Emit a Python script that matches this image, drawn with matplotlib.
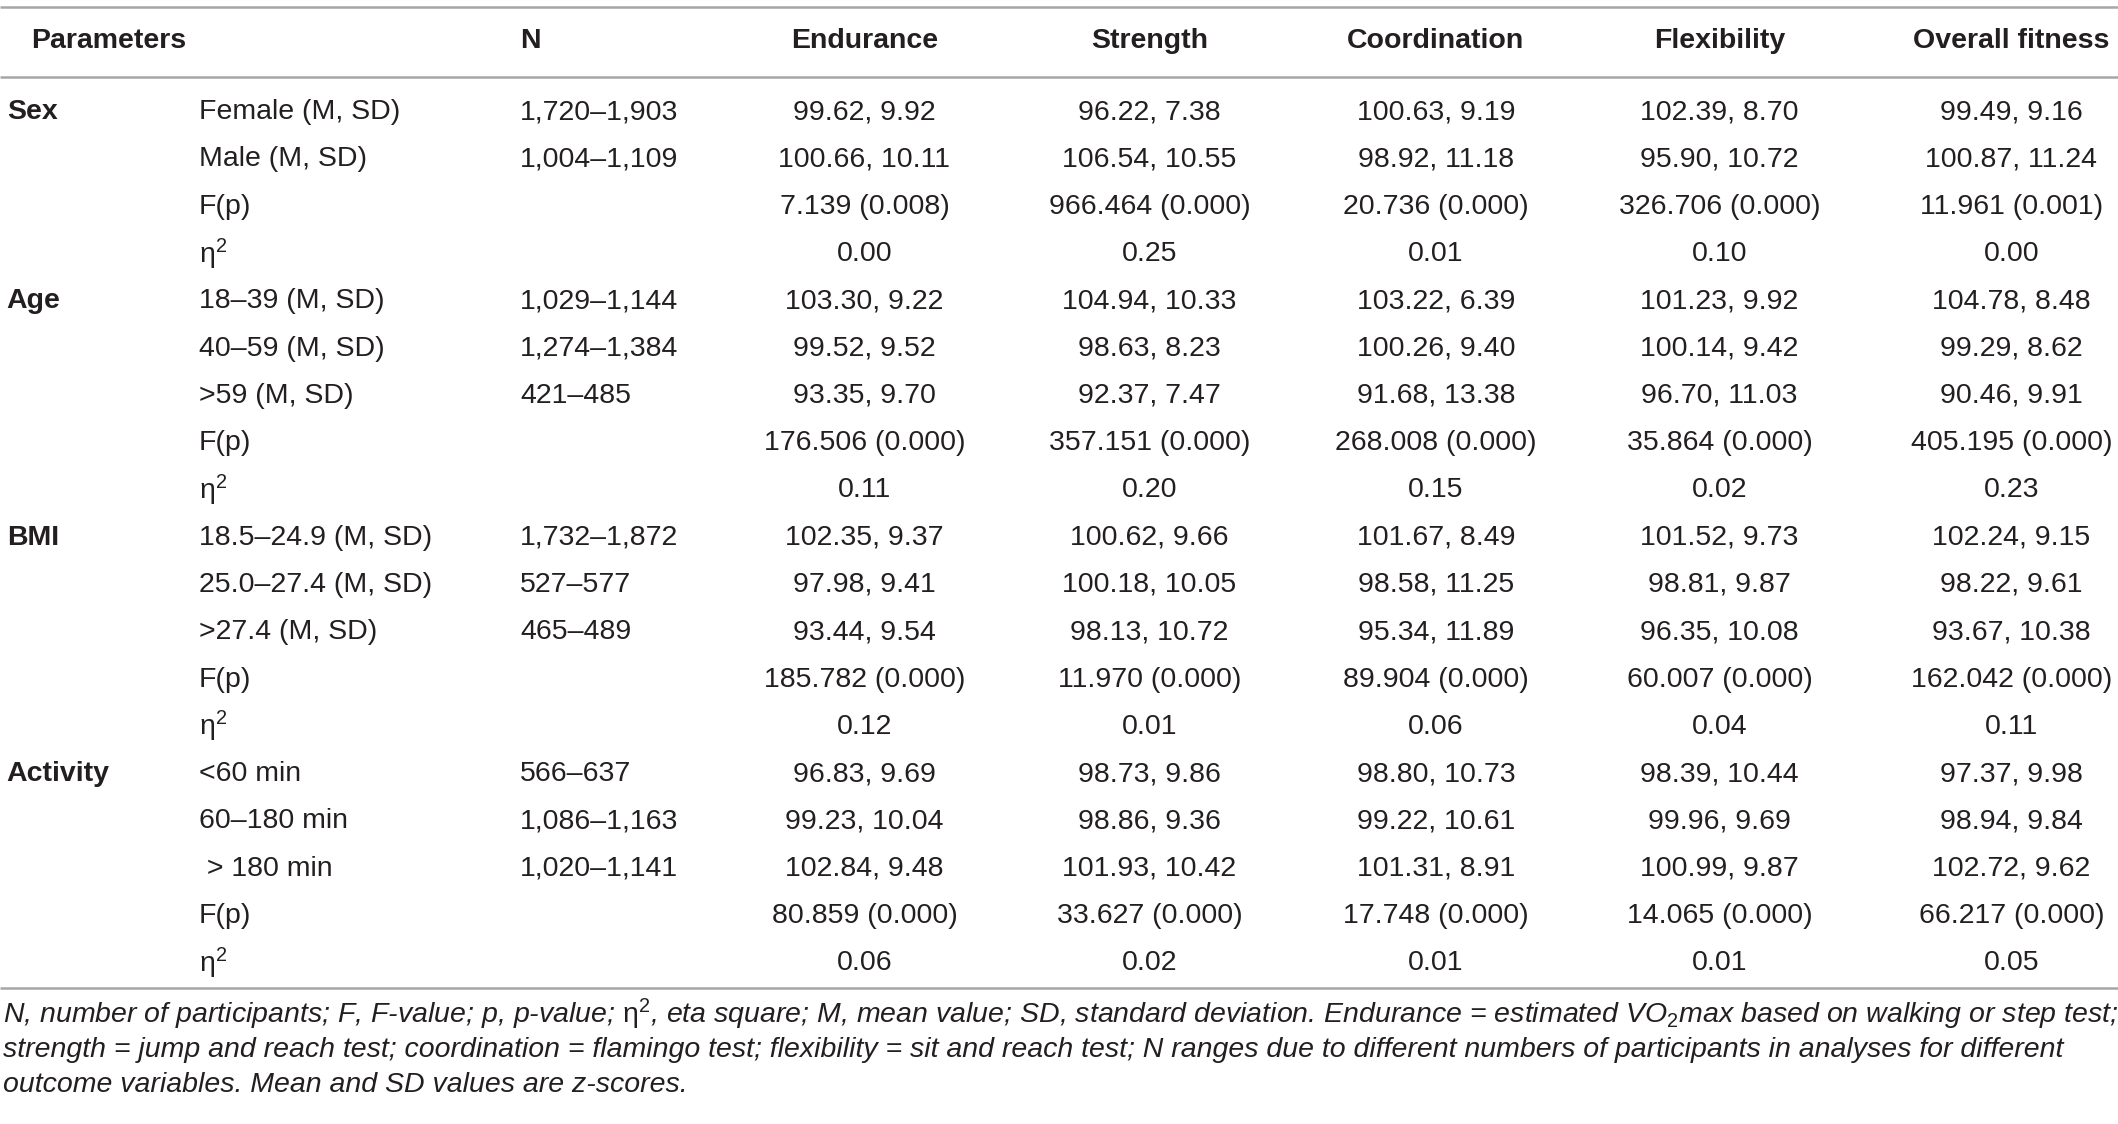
import matplotlib
matplotlib.use("Agg")
import matplotlib.pyplot as plt

plt.rcParams['font.family'] = ['Liberation Sans', 'DejaVu Sans']
plt.rcParams['mathtext.fontset'] = 'custom'
plt.rcParams['mathtext.rm'] = 'Liberation Sans'
plt.rcParams['mathtext.it'] = 'Liberation Sans:italic'

# 表头
columns = ["Endurance", "Strength", "Coordination", "Flexibility", "Overall fitness"]
groups = ["Sex", "Age", "BMI", "Activity"]
group_sizes = [4, 5, 5, 5]

row_labels = [
    "Female (M, SD)", "Male (M, SD)", "F(p)", "η$^{2}$",
    "18–39 (M, SD)", "40–59 (M, SD)", ">59 (M, SD)", "F(p)", "η$^{2}$",
    "18.5–24.9 (M, SD)", "25.0–27.4 (M, SD)", ">27.4 (M, SD)", "F(p)", "η$^{2}$",
    "<60 min", "60–180 min", " > 180 min", "F(p)", "η$^{2}$",
]
n_values = [
    "1,720–1,903", "1,004–1,109", "", "",
    "1,029–1,144", "1,274–1,384", "421–485", "", "",
    "1,732–1,872", "527–577", "465–489", "", "",
    "566–637", "1,086–1,163", "1,020–1,141", "", "",
]
endurance = [
    "99.62, 9.92", "100.66, 10.11", "7.139 (0.008)", "0.00",
    "103.30, 9.22", "99.52, 9.52", "93.35, 9.70", "176.506 (0.000)", "0.11",
    "102.35, 9.37", "97.98, 9.41", "93.44, 9.54", "185.782 (0.000)", "0.12",
    "96.83, 9.69", "99.23, 10.04", "102.84, 9.48", "80.859 (0.000)", "0.06",
]
strength = [
    "96.22, 7.38", "106.54, 10.55", "966.464 (0.000)", "0.25",
    "104.94, 10.33", "98.63, 8.23", "92.37, 7.47", "357.151 (0.000)", "0.20",
    "100.62, 9.66", "100.18, 10.05", "98.13, 10.72", "11.970 (0.000)", "0.01",
    "98.73, 9.86", "98.86, 9.36", "101.93, 10.42", "33.627 (0.000)", "0.02",
]
coordination = [
    "100.63, 9.19", "98.92, 11.18", "20.736 (0.000)", "0.01",
    "103.22, 6.39", "100.26, 9.40", "91.68, 13.38", "268.008 (0.000)", "0.15",
    "101.67, 8.49", "98.58, 11.25", "95.34, 11.89", "89.904 (0.000)", "0.06",
    "98.80, 10.73", "99.22, 10.61", "101.31, 8.91", "17.748 (0.000)", "0.01",
]
flexibility = [
    "102.39, 8.70", "95.90, 10.72", "326.706 (0.000)", "0.10",
    "101.23, 9.92", "100.14, 9.42", "96.70, 11.03", "35.864 (0.000)", "0.02",
    "101.52, 9.73", "98.81, 9.87", "96.35, 10.08", "60.007 (0.000)", "0.04",
    "98.39, 10.44", "99.96, 9.69", "100.99, 9.87", "14.065 (0.000)", "0.01",
]
overall = [
    "99.49, 9.16", "100.87, 11.24", "11.961 (0.001)", "0.00",
    "104.78, 8.48", "99.29, 8.62", "90.46, 9.91", "405.195 (0.000)", "0.23",
    "102.24, 9.15", "98.22, 9.61", "93.67, 10.38", "162.042 (0.000)", "0.11",
    "97.37, 9.98", "98.94, 9.84", "102.72, 9.62", "66.217 (0.000)", "0.05",
]

footnote = [
    "N, number of participants; F, F-value; p, p-value; $\\mathrm{η}^{2}$, eta square; M, mean value; SD, standard deviation. "
    "Endurance = estimated VO$_{2}$max based on walking or step test;",
    "strength = jump and reach test; coordination = flamingo test; flexibility = sit and reach test; "
    "N ranges due to different numbers of participants in analyses for different",
    "outcome variables. Mean and SD values are z-scores.",
]

W, H = 1568, 832
fig = plt.figure(figsize=(21.18, 11.24), dpi=100)
ax = fig.add_axes([0, 0, 1, 1])
ax.set_xlim(0, W)
ax.set_ylim(H, 0)
ax.axis('off')

txt = '#231f20'
line_c = '#a6a6a6'
fs = 20.5

col_x = [640, 851, 1063, 1273, 1489]
row_y0, row_dy = 83, 35
header_y = 30

# 线
for y in (5, 57, 731):
    ax.plot([0, W], [y, y], color=line_c, lw=1.8, solid_capstyle='butt')

# 表头
ax.text(23, header_y, "Parameters", fontsize=fs, fontweight='bold', color=txt, va='center')
ax.text(385, header_y, "N", fontsize=fs, fontweight='bold', color=txt, va='center')
for x, c in zip(col_x, columns):
    ax.text(x, header_y, c, fontsize=fs, fontweight='bold', color=txt, va='center', ha='center')

# 分组
i = 0
for g, n in zip(groups, group_sizes):
    ax.text(5, row_y0 + i * row_dy, g, fontsize=fs, fontweight='bold', color=txt, va='center')
    i += n

data_cols = [endurance, strength, coordination, flexibility, overall]
for r in range(len(row_labels)):
    y = row_y0 + r * row_dy
    ax.text(147, y, row_labels[r], fontsize=fs, color=txt, va='center')
    ax.text(385, y, n_values[r], fontsize=fs, color=txt, va='center')
    for x, col in zip(col_x, data_cols):
        ax.text(x, y, col[r], fontsize=fs, color=txt, va='center', ha='center')

for k, line in enumerate(footnote):
    ax.text(2, 751 + k * 26, line, fontsize=fs, style='italic', color=txt, va='center')

fig.savefig("out.png", dpi=100)
